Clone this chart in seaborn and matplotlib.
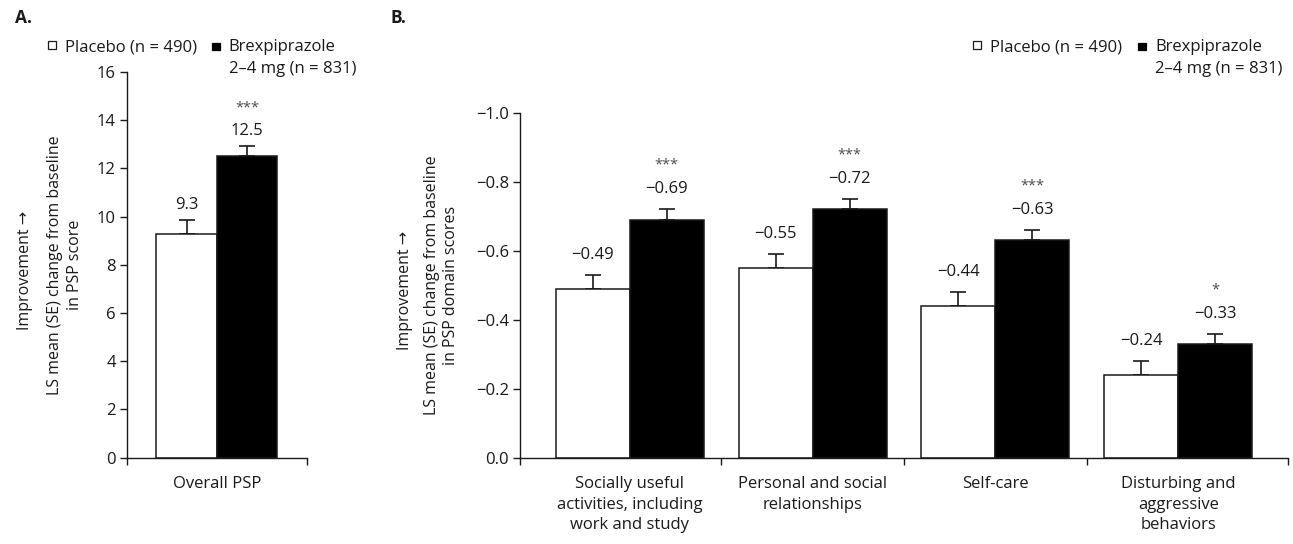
import numpy as np
import pandas as pd
import matplotlib
matplotlib.use("Agg")
import matplotlib.pyplot as plt
import seaborn as sns
from matplotlib.patches import Rectangle, Patch
from matplotlib.legend_handler import HandlerPatch
from matplotlib.ticker import FixedLocator, FuncFormatter

# ---------------- data ----------------
groups = ["Placebo", "Brexpiprazole"]
legend_labels = ["Placebo (n = 490)", "Brexpiprazole\n2\u20134 mg (n = 831)"]

overall_categories = ["Overall PSP"]
overall_placebo = [9.3]
overall_placebo_se = [0.57]
overall_brex = [12.5]
overall_brex_se = [0.43]
overall_stars = ["***"]
overall_yticks = [0, 2, 4, 6, 8, 10, 12, 14, 16]

domain_categories = [
    "Socially useful\nactivities, including\nwork and study",
    "Personal and social\nrelationships",
    "Self-care",
    "Disturbing and\naggressive\nbehaviors",
]
domain_placebo = [-0.49, -0.55, -0.44, -0.24]
domain_placebo_se = [0.04, 0.04, 0.04, 0.04]
domain_brex = [-0.69, -0.72, -0.63, -0.33]
domain_brex_se = [0.03, 0.03, 0.03, 0.03]
domain_stars = ["***", "***", "***", "*"]
domain_yticks = [0.0, -0.2, -0.4, -0.6, -0.8, -1.0]

# ---------------- style ----------------
sns.set_style("ticks")
plt.rcParams["font.family"] = ["Open Sans", "DejaVu Sans"]
plt.rcParams["axes.unicode_minus"] = True
FS = 12
FS_YLAB = 11.5
INK = "#1a1a1a"

fig = plt.figure(figsize=(12.93, 5.44), dpi=100)
axA = fig.add_axes([127 / 1293, 1 - 457.7 / 544, 179.7 / 1293, 385.7 / 544])
axB = fig.add_axes([520 / 1293, 1 - 457.7 / 544, 768 / 1293, 345 / 544])


def fmt_val(v, nd):
    return f"{v:.{nd}f}".replace("-", "\u2212")


def draw_panel(ax, cats, pl, pl_se, br, br_se, stars, nd, lab_off, star_off):
    df = pd.DataFrame({
        "category": list(cats) * 2,
        "group": [groups[0]] * len(cats) + [groups[1]] * len(cats),
        "value": list(pl) + list(br),
    })
    sns.barplot(data=df, x="category", y="value", hue="group",
                order=cats, hue_order=groups,
                palette={groups[0]: "white", groups[1]: "black"},
                edgecolor=INK, linewidth=1.1, width=0.81, saturation=1,
                errorbar=None, legend=False, ax=ax, zorder=2)
    for k, (cont, vals, ses) in enumerate(zip(ax.containers, [pl, br], [pl_se, br_se])):
        for i, (bar, v, se) in enumerate(zip(cont, vals, ses)):
            xc = bar.get_x() + bar.get_width() / 2
            s = 1 if v >= 0 else -1
            yerr = [[0], [se]] if s > 0 else [[se], [0]]
            ax.errorbar([xc], [v], yerr=yerr, fmt="none", ecolor=INK,
                        elinewidth=1.2, capsize=5.8, capthick=1.2, zorder=1)
            top = v + s * se
            ax.annotate(fmt_val(v, nd), xy=(xc, top), xytext=(0, lab_off),
                        textcoords="offset pixels", ha="center", va="center",
                        fontsize=FS, color=INK)
            if k == 1 and stars[i]:
                ax.annotate(stars[i], xy=(xc, top), xytext=(0, star_off),
                            textcoords="offset pixels", ha="center", va="center",
                            fontsize=10.5, color="#4d4d4d")
    n = len(cats)
    ax.set_xlim(-0.6, n - 1 + 0.6)
    ax.xaxis.set_major_locator(FixedLocator(list(range(n))))
    ax.set_xticklabels(cats, linespacing=1.4)
    ax.xaxis.set_minor_locator(FixedLocator([-0.6] + [i + 0.5 for i in range(n - 1)] + [n - 1 + 0.6]))
    ax.tick_params(axis="x", which="major", length=0, pad=13, labelsize=FS, colors=INK)
    ax.tick_params(axis="x", which="minor", length=5, width=1.0, direction="out", color=INK)
    ax.tick_params(axis="y", which="major", length=5, width=1.0, direction="out",
                   pad=3, labelsize=FS, colors=INK)
    for sp in ["top", "right"]:
        ax.spines[sp].set_visible(False)
    for sp in ["left", "bottom"]:
        ax.spines[sp].set_linewidth(1.0)
        ax.spines[sp].set_color(INK)
    ax.set_xlabel("")
    ax.set_ylabel("")


draw_panel(axA, overall_categories, overall_placebo, overall_placebo_se,
           overall_brex, overall_brex_se, overall_stars, 1, 15, 38)
axA.set_ylim(0, 16)
axA.yaxis.set_major_locator(FixedLocator(overall_yticks))
axA.yaxis.set_major_formatter(FuncFormatter(lambda v, p: f"{v:.0f}"))

draw_panel(axB, domain_categories, domain_placebo, domain_placebo_se,
           domain_brex, domain_brex_se, domain_stars, 2, 20, 44)
axB.set_ylim(0, -1.0)
axB.yaxis.set_major_locator(FixedLocator(domain_yticks))
axB.yaxis.set_major_formatter(
    FuncFormatter(lambda v, p: fmt_val(0.0 if abs(v) < 1e-9 else v, 1)))

# y labels
for ax, ximp, xlab, second in [
        (axA, -0.568, -0.345, "in PSP score"),
        (axB, -0.150, -0.102, "in PSP domain scores")]:
    ax.text(ximp, 0.485, "Improvement \u2192", rotation=90, transform=ax.transAxes,
            ha="center", va="center", fontsize=FS_YLAB, color=INK)
    ax.text(xlab, 0.5, "LS mean (SE) change from baseline\n" + second, rotation=90,
            transform=ax.transAxes, ha="center", va="center", fontsize=FS_YLAB,
            color=INK, multialignment="center", linespacing=1.3)

# panel letters
fig.text(15 / 1293, 1 - 18 / 544, "A.", fontsize=12.5, weight="bold", va="center", color=INK)
fig.text(390 / 1293, 1 - 18 / 544, "B.", fontsize=12.5, weight="bold", va="center", color=INK)


# legends
def make_square(shift):
    def square(legend, orig_handle, xdescent, ydescent, width, height, fontsize):
        s = 0.47 * fontsize
        return Rectangle((-xdescent, -ydescent + shift * fontsize + (height - s) / 2), s, s)
    return square


handles = [Patch(facecolor="white", edgecolor=INK, linewidth=0.9),
           Patch(facecolor="black", edgecolor="black", linewidth=0.9)]
LEG_TOP = 1 - 39 / 544
for x_pl, x_br in [(47.7, 211.7), (973, 1138)]:
    for x0, h, lab, shift in [(x_pl, handles[0], legend_labels[0], 0.0),
                              (x_br, handles[1], legend_labels[1], 0.7)]:
        leg = fig.legend([h], [lab], loc="upper left",
                         bbox_to_anchor=(x0 / 1293, LEG_TOP), frameon=False,
                         fontsize=FS, handlelength=0.47, handleheight=0.7,
                         handletextpad=0.55, borderpad=0, borderaxespad=0,
                         handler_map={Patch: HandlerPatch(patch_func=make_square(shift))},
                         labelcolor=INK)
        for t in leg.get_texts():
            t.set_linespacing(1.5)

fig.savefig("out.png", dpi=100)
